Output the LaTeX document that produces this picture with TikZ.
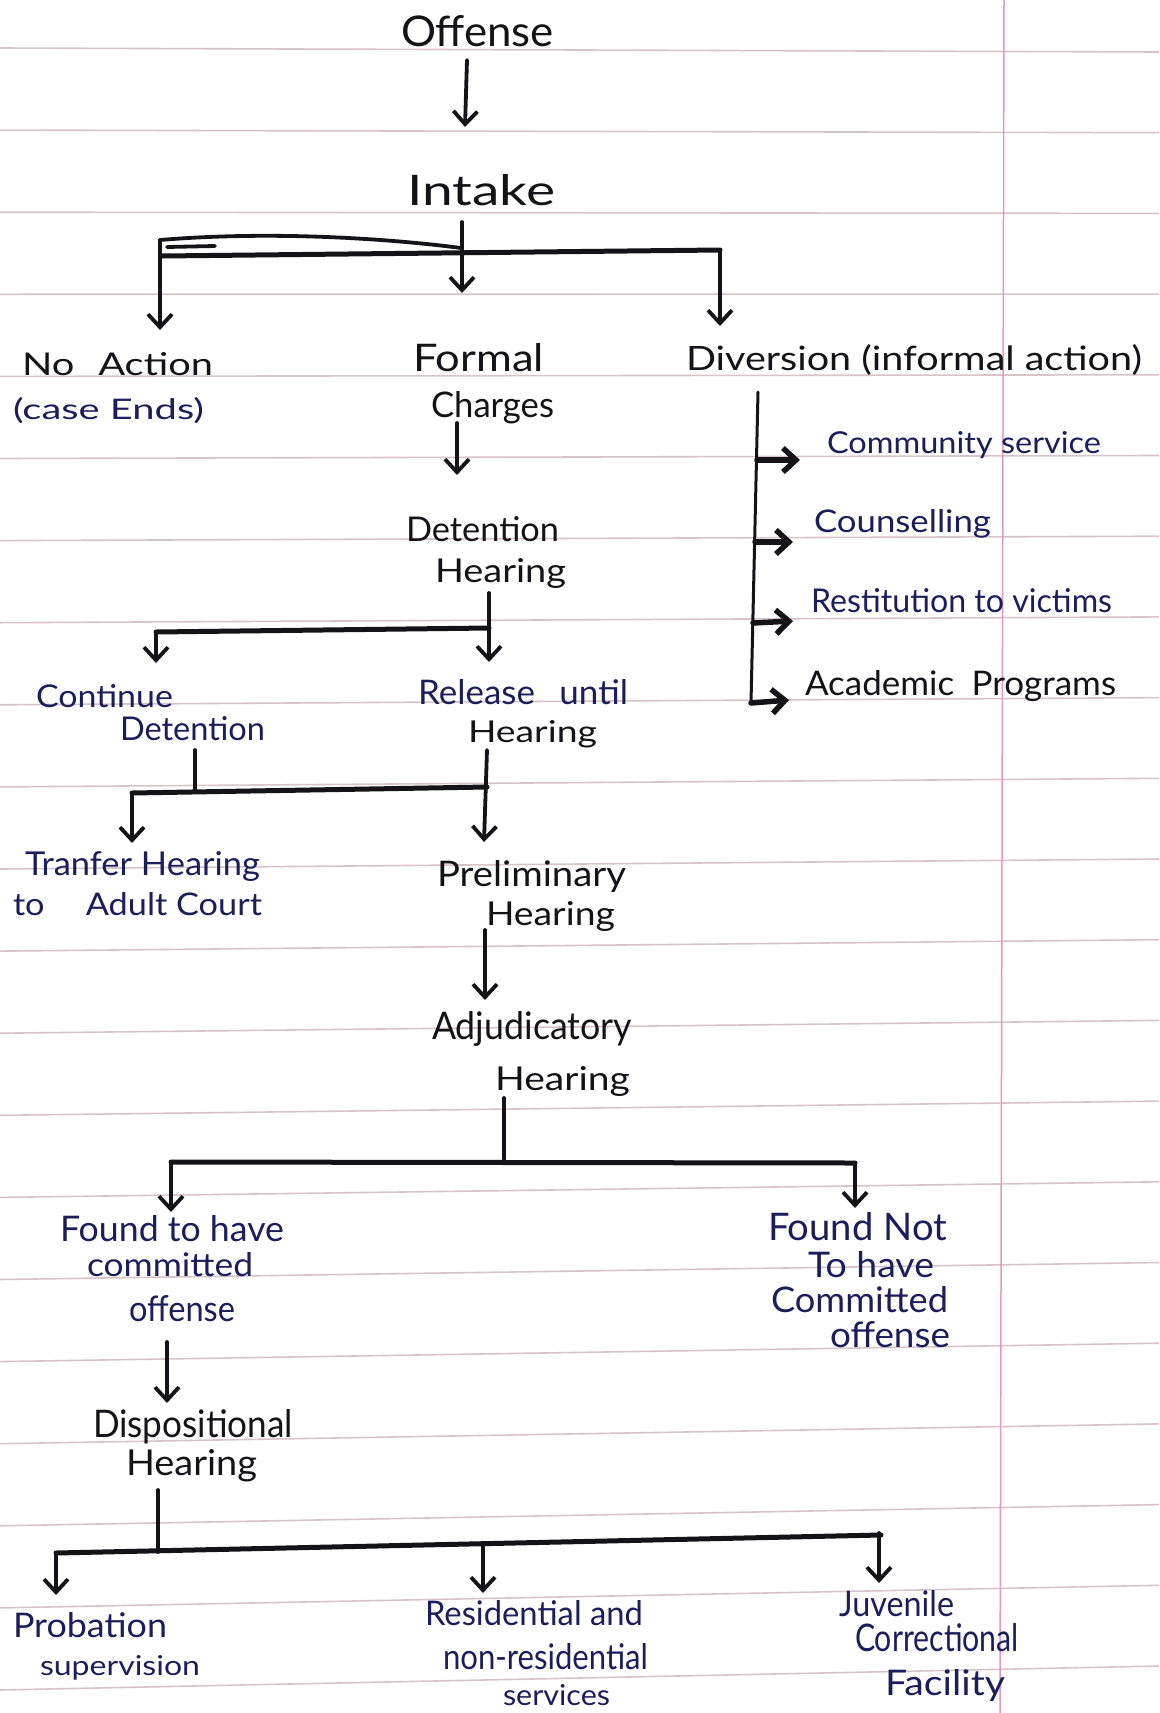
\documentclass[tikz,border=0pt]{standalone}
\usepackage{fontspec}
\setmainfont{Lato}
\usetikzlibrary{arrows.meta}
\definecolor{ink}{RGB}{20,20,24}
\definecolor{navy}{RGB}{28,30,92}
\definecolor{rulec}{RGB}{214,196,200}
\definecolor{marginc}{RGB}{232,150,195}
\newcommand\hw[3]{\resizebox{#1pt}{#2pt}{\fontsize{40}{48}\selectfont #3}}
\begin{document}
\begin{tikzpicture}[x=1pt,y=-1pt,
 lbl/.style={inner sep=0pt, outer sep=0pt, anchor=base west, text=ink},
 blu/.style={lbl, text=navy},
 ln/.style={draw=ink, line width=3.8pt, line cap=round, line join=round},
 hl/.style={ln, line width=5pt},
 arr/.style={ln, -{Straight Barb[length=13pt,width=24pt]}},
 barr/.style={arr, line width=5.5pt},
 rulel/.style={draw=rulec, line width=1.6pt},
]
\useasboundingbox (0,0) rectangle (1159,1713);
\fill[white] (0,0) rectangle (1159,1713);
% ruled paper
\foreach \k in {0,...,20}{
  \pgfmathsetmacro\yk{50+81.4*\k}
  \pgfmathsetmacro\tk{-4+1.4*\k}
  \draw[rulel] (0,{\yk+\tk/2}) -- (1159,{\yk-\tk/2});
}
\draw[draw=marginc, line width=1.5pt] (1004,0) -- (1000,1713);

% ---------- texts ----------
\node[lbl] (offense) at (401,46) {\hw{153}{31}{Offense}};
\node[lbl] (intake) at (407,205) {\hw{148}{31}{Intake}};
\node[lbl] (noact1) at (22,375) {\hw{191}{23}{No\hspace{0.6em}Action}};
\node[blu] (noact2) at (13,419) {\hw{191}{22}{(case Ends)}};
\node[lbl] (formal1) at (413,371) {\hw{131}{28}{Formal}};
\node[lbl] (formal2) at (431,417) {\hw{123}{26}{Charges}};
\node[lbl] (diver) at (686,370) {\hw{456}{26}{Diversion (informal action)}};
\node[blu] (comm) at (827,453) {\hw{274}{22}{Community service}};
\node[blu] (couns) at (814,532) {\hw{177}{23}{Counselling}};
\node[blu] (restit) at (811,612) {\hw{301}{24}{Restitution to victims}};
\node[lbl] (acad) at (805,695) {\hw{311}{25}{Academic\hspace{0.5em}Programs}};
\node[lbl] (det1) at (406,541) {\hw{153}{25}{Detention}};
\node[lbl] (det2) at (435,582) {\hw{131}{24}{Hearing}};
\node[blu] (cont1) at (36,707) {\hw{137}{23}{Continue}};
\node[blu] (cont2) at (120,740) {\hw{145}{24}{Detention}};
\node[blu] (rel1) at (418,704) {\hw{210}{25}{Release\hspace{0.7em}until}};
\node[lbl] (rel2) at (468,742) {\hw{129}{22}{Hearing}};
\node[blu] (tran1) at (25,875) {\hw{235}{24}{Tranfer Hearing}};
\node[blu] (tran2) at (13,915) {\hw{249}{23}{to\hspace{1.2em}Adult Court}};
\node[lbl] (pre1) at (437,886) {\hw{189}{26}{Preliminary}};
\node[lbl] (pre2) at (486,925) {\hw{129}{24}{Hearing}};
\node[lbl] (adj1) at (432,1039) {\hw{200}{28}{Adjudicatory}};
\node[lbl] (adj2) at (495,1090) {\hw{135}{24}{Hearing}};
\node[blu] (fnd1) at (60,1241) {\hw{224}{26}{Found to have}};
\node[blu] (fnd2) at (87,1276) {\hw{166}{24}{committed}};
\node[blu] (fnd3) at (129,1321) {\hw{106}{26}{offense}};
\node[blu] (fnot1) at (768,1240) {\hw{179}{28}{Found Not}};
\node[blu] (fnot2) at (808,1277) {\hw{126}{26}{To have}};
\node[blu] (fnot3) at (771,1312) {\hw{177}{26}{Committed}};
\node[blu] (fnot4) at (830,1347) {\hw{120}{26}{offense}};
\node[lbl] (disp1) at (93,1437) {\hw{200}{28}{Dispositional}};
\node[lbl] (disp2) at (126,1475) {\hw{131}{26}{Hearing}};
\node[blu] (prob1) at (13,1637) {\hw{154}{25}{Probation}};
\node[blu] (prob2) at (40,1675) {\hw{160}{20}{supervision}};
\node[blu] (res1) at (425,1625) {\hw{218}{25}{Residential and}};
\node[blu] (res2) at (443,1669) {\hw{205}{26}{non-residential}};
\node[blu] (res3) at (503,1705) {\hw{107}{21}{services}};
\node[blu] (juv1) at (839,1616) {\hw{115}{26}{Juvenile}};
\node[blu] (juv2) at (855,1651) {\hw{164}{28}{Correctional}};
\node[blu] (juv3) at (885,1695) {\hw{120}{26}{Facility}};

% ---------- junction coordinates ----------
\coordinate (o1) at (467,60);   \coordinate (o2) at (465,127);
\coordinate (i1) at (462,222);  \coordinate (i2) at (462,293);
\coordinate (bl) at (160,240);  \coordinate (bl2) at (162,256);
\coordinate (bm) at (461,248);  \coordinate (br) at (720,250);
\coordinate (blend) at (160,330); \coordinate (brend) at (720,326);
\coordinate (s1) at (167,247);  \coordinate (s2) at (215,246);
\coordinate (c1) at (457,423);  \coordinate (c2) at (457,475);
\coordinate (d1) at (489,593);  \coordinate (d2) at (489,628); \coordinate (d3) at (489,662);
\coordinate (dl) at (156,632);  \coordinate (dlend) at (156,663);
\coordinate (v1) at (758,392);  \coordinate (v4) at (751,703);
\coordinate (b1) at (757,460);  \coordinate (b1e) at (800,460);
\coordinate (b2) at (755,542);  \coordinate (b2e) at (793,542);
\coordinate (b3) at (753,623);  \coordinate (b3e) at (793,621);
\coordinate (b4e) at (789,700);
\coordinate (k1) at (195,750);  \coordinate (k2) at (195,790);
\coordinate (r1) at (487,750);  \coordinate (r2) at (487,787); \coordinate (r3) at (484,842);
\coordinate (kl) at (132,793);  \coordinate (klend) at (132,843);
\coordinate (p1) at (485,930);  \coordinate (p2) at (485,1000);
\coordinate (a1) at (504,1098); \coordinate (a2) at (504,1162);
\coordinate (al) at (171,1162); \coordinate (ar) at (855,1163);
\coordinate (alend) at (171,1212); \coordinate (arend) at (855,1208);
\coordinate (f1) at (167,1342); \coordinate (f2) at (167,1403);
\coordinate (h1) at (158,1490); \coordinate (h2) at (158,1552);
\coordinate (hl) at (56,1553);  \coordinate (hr) at (881,1535);
\coordinate (hlend) at (56,1595);
\coordinate (hm) at (483,1544); \coordinate (hmend) at (483,1593);
\coordinate (hr2) at (879,1533); \coordinate (hrend) at (879,1583);

% ---------- connectors ----------
\draw[arr] (o1) -- (o2);
\draw[arr] (i1) -- (i2);
\draw[ln] (bl) .. controls (280,230) and (400,240) .. (bm);
\draw[ln] (s1) -- (s2);
\draw[hl] (bl2) -- (br);
\draw[arr] (bl) -- (blend);
\draw[arr] (br) -- (brend);
\draw[arr] (c1) -- (c2);
\draw[arr] (d1) -- (d3);
\draw[hl] (dl) -- (d2);
\draw[arr] (dl) -- (dlend);
\draw[ln, line width=3pt] (v1) -- (v4);
\draw[barr] (b1) -- (b1e);
\draw[barr] (b2) -- (b2e);
\draw[barr] (b3) -- (b3e);
\draw[barr] (v4) -- (b4e);
\draw[ln] (k1) -- (k2);
\draw[arr] (r1) -- (r3);
\draw[hl] (kl) -- (r2);
\draw[arr] (kl) -- (klend);
\draw[arr] (p1) -- (p2);
\draw[ln] (a1) -- (a2);
\draw[hl] (al) -- (ar);
\draw[arr] (al) -- (alend);
\draw[arr] (ar) -- (arend);
\draw[arr] (f1) -- (f2);
\draw[ln] (h1) -- (h2);
\draw[hl] (hl) -- (hr);
\draw[arr] (hl) -- (hlend);
\draw[arr] (hm) -- (hmend);
\draw[arr] (hr2) -- (hrend);
\end{tikzpicture}
\end{document}
